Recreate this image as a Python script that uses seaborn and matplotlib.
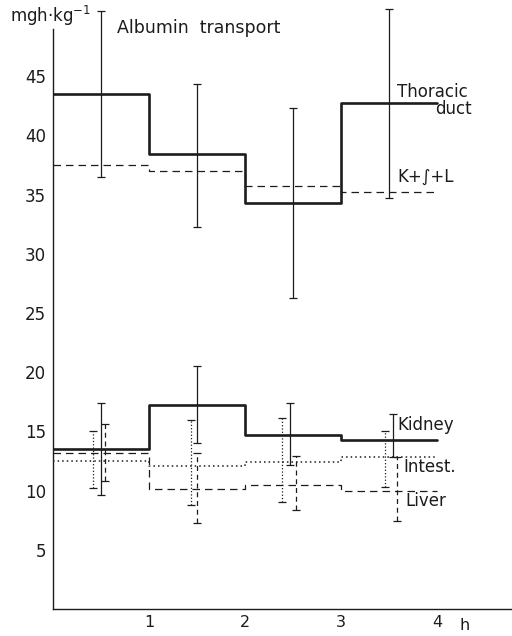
import numpy as np
import pandas as pd
import matplotlib
matplotlib.use("Agg")
import matplotlib.pyplot as plt
import seaborn as sns

# step edges (h) and mean transport per hour interval (mg h kg^-1)
hours = [0, 1, 2, 3, 4]
thoracic = [43.5, 38.4, 34.3, 42.7]
kil = [37.5, 37.0, 35.7, 35.2]
kidney = [13.5, 17.2, 14.7, 14.3]
intest = [12.5, 12.1, 12.4, 12.8]
liver = [13.2, 10.1, 10.5, 10.0]

# error bars: position, lower end, upper end
thoracic_ex = [0.5, 1.5, 2.5, 3.5]
thoracic_lo = [36.5, 32.3, 26.3, 34.7]
thoracic_hi = [50.5, 44.3, 42.3, 50.7]
kidney_ex = [0.5, 1.5, 2.47, 3.54]
kidney_lo = [9.6, 14.0, 12.2, 12.8]
kidney_hi = [17.4, 20.5, 17.4, 16.5]
intest_ex = [0.42, 1.44, 2.39, 3.46]
intest_lo = [10.2, 8.8, 9.0, 10.3]
intest_hi = [15.0, 16.0, 16.1, 15.0]
liver_ex = [0.54, 1.5, 2.53, 3.58]
liver_lo = [10.8, 7.3, 8.4, 7.4]
liver_hi = [15.6, 13.2, 12.9, 12.8]

yticks = [5, 10, 15, 20, 25, 30, 35, 40, 45]
xticks = [1, 2, 3, 4]

INK = "#1c1c1c"


def step_df(vals):
    return pd.DataFrame({"h": hours, "v": list(vals) + [vals[-1]]})


def draw_step(ax, vals, lw, ls):
    sns.lineplot(data=step_df(vals), x="h", y="v", ax=ax, color=INK,
                 linewidth=lw, linestyle=ls, drawstyle="steps-post",
                 estimator=None, sort=False)


def draw_err(ax, xs, lo, hi, ls):
    xs = np.asarray(xs)
    lo = np.asarray(lo)
    hi = np.asarray(hi)
    mid = (lo + hi) / 2
    _, caps, bars = ax.errorbar(xs, mid, yerr=[mid - lo, hi - mid], fmt="none",
                                ecolor=INK, elinewidth=0.9, capsize=3,
                                capthick=0.9)
    for b in bars:
        b.set_linestyle(ls)


sns.set_theme(style="white")
plt.rcParams["font.family"] = ["DejaVu Sans"]

fig = plt.figure(figsize=(5.12, 6.36), dpi=100)
ax = fig.add_axes([53 / 512, 27 / 636, 1 - 53 / 512, 609 / 636])

dash_long = (0, (6, 4))
dash_err = (0, (4, 3))
dot = (0, (1, 2))

draw_step(ax, thoracic, 1.9, "-")
draw_step(ax, kil, 0.9, dash_long)
draw_step(ax, kidney, 1.9, "-")
draw_step(ax, intest, 1.1, dot)
draw_step(ax, liver, 0.9, dash_long)

draw_err(ax, thoracic_ex, thoracic_lo, thoracic_hi, "-")
draw_err(ax, kidney_ex, kidney_lo, kidney_hi, "-")
draw_err(ax, intest_ex, intest_lo, intest_hi, ":")
draw_err(ax, liver_ex, liver_lo, liver_hi, dash_err)

ax.set_xlim(0, 459 / 96)
ax.set_ylim(0, 609 / 11.84)
ax.set_xlabel("")
ax.set_ylabel("")
ax.set_xticks(xticks)
ax.set_yticks(yticks)
ax.tick_params(axis="both", direction="out", length=4, width=0.9,
               colors=INK, labelsize=12, pad=1)
ax.tick_params(axis="x", length=3, pad=1, labelsize=11.5)

for s in ["top", "right"]:
    ax.spines[s].set_visible(False)
ax.spines["left"].set_bounds(0, 49)
for s in ["left", "bottom"]:
    ax.spines[s].set_color(INK)
    ax.spines[s].set_linewidth(1.0)

fs = 12
ax.text(-0.45, 50.1, "mgh·kg$^{-1}$", fontsize=fs, color=INK, va="center",
        ha="left", clip_on=False)
ax.text(0.67, 49.1, "Albumin  transport", fontsize=12.5, color=INK,
        va="center", ha="left")
ax.text(3.58, 43.7, "Thoracic", fontsize=fs, color=INK, va="center", ha="left")
ax.text(3.98, 42.2, "duct", fontsize=fs, color=INK, va="center", ha="left")
ax.text(3.59, 36.5, "K+∫+L", fontsize=fs, color=INK, va="center", ha="left")
ax.text(3.59, 15.5, "Kidney", fontsize=fs, color=INK, va="center", ha="left")
ax.text(3.65, 12.0, "Intest.", fontsize=fs, color=INK, va="center", ha="left")
ax.text(3.67, 9.1, "Liver", fontsize=fs, color=INK, va="center", ha="left")
ax.text(4.29, -1.4, "h", fontsize=11.5, color=INK, va="center", ha="center",
        clip_on=False)

fig.savefig("out.png", dpi=100, facecolor="white")
